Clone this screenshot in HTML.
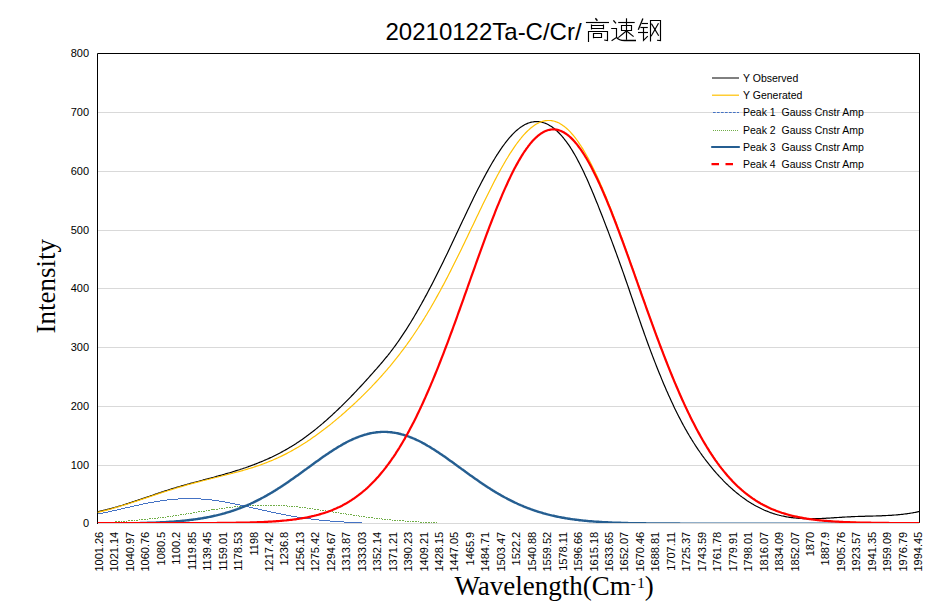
<!DOCTYPE html>
<html><head><meta charset="utf-8"><style>
html,body{margin:0;padding:0;background:#fff;}
svg{display:block;}
</style></head><body>
<svg width="939" height="611" viewBox="0 0 939 611">
<rect x="0" y="0" width="939" height="611" fill="#fff"/>
<defs><clipPath id="pc"><rect x="97.5" y="53.5" width="822" height="469.5"/></clipPath></defs>
<g stroke="#d9d9d9" stroke-width="1">
<line x1="98" x2="919" y1="112.5" y2="112.5"/>
<line x1="98" x2="919" y1="171.5" y2="171.5"/>
<line x1="98" x2="919" y1="230.5" y2="230.5"/>
<line x1="98" x2="919" y1="288.5" y2="288.5"/>
<line x1="98" x2="919" y1="347.5" y2="347.5"/>
<line x1="98" x2="919" y1="406.5" y2="406.5"/>
<line x1="98" x2="919" y1="465.5" y2="465.5"/>
<line x1="98" x2="919" y1="523.5" y2="523.5"/>
</g>
<path d="M97.5 524 V53.5 H919.5 V523" fill="none" stroke="#000" stroke-width="1"/>
<g clip-path="url(#pc)" fill="none" stroke-linejoin="round">
<path d="M97.5,511.8 L98.5,511.6 L99.5,511.3 L100.5,511.1 L101.5,510.9 L102.5,510.7 L103.5,510.4 L104.5,510.2 L105.5,509.9 L106.5,509.7 L107.5,509.4 L108.5,509.2 L109.5,508.9 L110.5,508.6 L111.5,508.4 L112.5,508.1 L113.5,507.8 L114.5,507.5 L115.5,507.2 L116.5,507.0 L117.5,506.7 L118.5,506.4 L119.5,506.1 L120.5,505.8 L121.5,505.5 L122.5,505.2 L123.5,504.8 L124.5,504.5 L125.5,504.2 L126.5,503.9 L127.5,503.6 L128.5,503.3 L129.5,502.9 L130.5,502.6 L131.5,502.3 L132.5,501.9 L133.5,501.6 L134.5,501.3 L135.5,500.9 L136.5,500.6 L137.5,500.3 L138.5,499.9 L139.5,499.6 L140.5,499.3 L141.5,498.9 L142.5,498.6 L143.5,498.2 L144.5,497.9 L145.5,497.6 L146.5,497.2 L147.5,496.9 L148.5,496.5 L149.5,496.2 L150.5,495.8 L151.5,495.5 L152.5,495.2 L153.5,494.8 L154.5,494.5 L155.5,494.1 L156.5,493.8 L157.5,493.5 L158.5,493.1 L159.5,492.8 L160.5,492.5 L161.5,492.1 L162.5,491.8 L163.5,491.5 L164.5,491.1 L165.5,490.8 L166.5,490.5 L167.5,490.2 L168.5,489.9 L169.5,489.5 L170.5,489.2 L171.5,488.9 L172.5,488.6 L173.5,488.3 L174.5,488.0 L175.5,487.7 L176.5,487.4 L177.5,487.1 L178.5,486.8 L179.5,486.5 L180.5,486.2 L181.5,485.9 L182.5,485.6 L183.5,485.4 L184.5,485.1 L185.5,484.8 L186.5,484.5 L187.5,484.2 L188.5,484.0 L189.5,483.7 L190.5,483.4 L191.5,483.1 L192.5,482.9 L193.5,482.6 L194.5,482.3 L195.5,482.1 L196.5,481.8 L197.5,481.5 L198.5,481.3 L199.5,481.0 L200.5,480.7 L201.5,480.5 L202.5,480.2 L203.5,479.9 L204.5,479.7 L205.5,479.4 L206.5,479.1 L207.5,478.9 L208.5,478.6 L209.5,478.3 L210.5,478.1 L211.5,477.8 L212.5,477.5 L213.5,477.3 L214.5,477.0 L215.5,476.7 L216.5,476.4 L217.5,476.2 L218.5,475.9 L219.5,475.6 L220.5,475.3 L221.5,475.1 L222.5,474.8 L223.5,474.5 L224.5,474.2 L225.5,473.9 L226.5,473.6 L227.5,473.3 L228.5,473.0 L229.5,472.8 L230.5,472.5 L231.5,472.2 L232.5,471.9 L233.5,471.5 L234.5,471.2 L235.5,470.9 L236.5,470.6 L237.5,470.3 L238.5,470.0 L239.5,469.7 L240.5,469.3 L241.5,469.0 L242.5,468.7 L243.5,468.3 L244.5,468.0 L245.5,467.7 L246.5,467.3 L247.5,467.0 L248.5,466.6 L249.5,466.2 L250.5,465.9 L251.5,465.5 L252.5,465.1 L253.5,464.8 L254.5,464.4 L255.5,464.0 L256.5,463.6 L257.5,463.2 L258.5,462.8 L259.5,462.4 L260.5,462.0 L261.5,461.6 L262.5,461.2 L263.5,460.8 L264.5,460.3 L265.5,459.9 L266.5,459.5 L267.5,459.0 L268.5,458.6 L269.5,458.1 L270.5,457.6 L271.5,457.2 L272.5,456.7 L273.5,456.2 L274.5,455.7 L275.5,455.2 L276.5,454.7 L277.5,454.2 L278.5,453.7 L279.5,453.2 L280.5,452.7 L281.5,452.1 L282.5,451.6 L283.5,451.0 L284.5,450.5 L285.5,449.9 L286.5,449.4 L287.5,448.8 L288.5,448.2 L289.5,447.6 L290.5,447.0 L291.5,446.4 L292.5,445.8 L293.5,445.2 L294.5,444.5 L295.5,443.9 L296.5,443.2 L297.5,442.6 L298.5,441.9 L299.5,441.3 L300.5,440.6 L301.5,439.9 L302.5,439.2 L303.5,438.5 L304.5,437.8 L305.5,437.1 L306.5,436.3 L307.5,435.6 L308.5,434.8 L309.5,434.1 L310.5,433.3 L311.5,432.5 L312.5,431.8 L313.5,431.0 L314.5,430.2 L315.5,429.4 L316.5,428.6 L317.5,427.8 L318.5,426.9 L319.5,426.1 L320.5,425.3 L321.5,424.4 L322.5,423.6 L323.5,422.7 L324.5,421.8 L325.5,421.0 L326.5,420.1 L327.5,419.2 L328.5,418.3 L329.5,417.4 L330.5,416.5 L331.5,415.6 L332.5,414.7 L333.5,413.7 L334.5,412.8 L335.5,411.9 L336.5,410.9 L337.5,410.0 L338.5,409.0 L339.5,408.0 L340.5,407.1 L341.5,406.1 L342.5,405.1 L343.5,404.1 L344.5,403.1 L345.5,402.1 L346.5,401.1 L347.5,400.1 L348.5,399.1 L349.5,398.1 L350.5,397.1 L351.5,396.0 L352.5,395.0 L353.5,394.0 L354.5,392.9 L355.5,391.9 L356.5,390.8 L357.5,389.7 L358.5,388.7 L359.5,387.6 L360.5,386.5 L361.5,385.5 L362.5,384.4 L363.5,383.3 L364.5,382.2 L365.5,381.1 L366.5,380.0 L367.5,378.9 L368.5,377.8 L369.5,376.7 L370.5,375.5 L371.5,374.4 L372.5,373.3 L373.5,372.2 L374.5,371.0 L375.5,369.9 L376.5,368.8 L377.5,367.6 L378.5,366.5 L379.5,365.3 L380.5,364.2 L381.5,363.0 L382.5,361.8 L383.5,360.6 L384.5,359.4 L385.5,358.2 L386.5,357.0 L387.5,355.8 L388.5,354.5 L389.5,353.3 L390.5,352.0 L391.5,350.7 L392.5,349.4 L393.5,348.0 L394.5,346.7 L395.5,345.3 L396.5,343.9 L397.5,342.5 L398.5,341.1 L399.5,339.7 L400.5,338.2 L401.5,336.7 L402.5,335.2 L403.5,333.7 L404.5,332.2 L405.5,330.7 L406.5,329.1 L407.5,327.5 L408.5,325.9 L409.5,324.3 L410.5,322.7 L411.5,321.0 L412.5,319.4 L413.5,317.7 L414.5,316.0 L415.5,314.3 L416.5,312.6 L417.5,310.8 L418.5,309.1 L419.5,307.3 L420.5,305.5 L421.5,303.8 L422.5,301.9 L423.5,300.1 L424.5,298.3 L425.5,296.4 L426.5,294.6 L427.5,292.7 L428.5,290.8 L429.5,288.9 L430.5,287.0 L431.5,285.1 L432.5,283.2 L433.5,281.2 L434.5,279.3 L435.5,277.3 L436.5,275.3 L437.5,273.3 L438.5,271.3 L439.5,269.3 L440.5,267.3 L441.5,265.3 L442.5,263.2 L443.5,261.2 L444.5,259.1 L445.5,257.0 L446.5,255.0 L447.5,252.9 L448.5,250.8 L449.5,248.7 L450.5,246.6 L451.5,244.5 L452.5,242.3 L453.5,240.2 L454.5,238.1 L455.5,236.0 L456.5,233.8 L457.5,231.7 L458.5,229.6 L459.5,227.5 L460.5,225.3 L461.5,223.2 L462.5,221.1 L463.5,219.0 L464.5,216.9 L465.5,214.8 L466.5,212.7 L467.5,210.6 L468.5,208.5 L469.5,206.4 L470.5,204.3 L471.5,202.2 L472.5,200.2 L473.5,198.1 L474.5,196.1 L475.5,194.1 L476.5,192.1 L477.5,190.1 L478.5,188.1 L479.5,186.2 L480.5,184.2 L481.5,182.3 L482.5,180.4 L483.5,178.5 L484.5,176.6 L485.5,174.7 L486.5,172.9 L487.5,171.1 L488.5,169.3 L489.5,167.5 L490.5,165.7 L491.5,164.0 L492.5,162.3 L493.5,160.6 L494.5,159.0 L495.5,157.3 L496.5,155.7 L497.5,154.2 L498.5,152.6 L499.5,151.1 L500.5,149.6 L501.5,148.2 L502.5,146.7 L503.5,145.4 L504.5,144.0 L505.5,142.7 L506.5,141.4 L507.5,140.1 L508.5,138.9 L509.5,137.7 L510.5,136.6 L511.5,135.5 L512.5,134.4 L513.5,133.4 L514.5,132.4 L515.5,131.4 L516.5,130.5 L517.5,129.7 L518.5,128.9 L519.5,128.1 L520.5,127.3 L521.5,126.7 L522.5,126.0 L523.5,125.4 L524.5,124.8 L525.5,124.3 L526.5,123.9 L527.5,123.4 L528.5,123.0 L529.5,122.7 L530.5,122.4 L531.5,122.2 L532.5,122.0 L533.5,121.8 L534.5,121.7 L535.5,121.6 L536.5,121.6 L537.5,121.6 L538.5,121.7 L539.5,121.8 L540.5,121.9 L541.5,122.1 L542.5,122.4 L543.5,122.7 L544.5,123.0 L545.5,123.4 L546.5,123.8 L547.5,124.3 L548.5,124.8 L549.5,125.4 L550.5,126.0 L551.5,126.6 L552.5,127.3 L553.5,128.1 L554.5,128.8 L555.5,129.7 L556.5,130.6 L557.5,131.5 L558.5,132.5 L559.5,133.5 L560.5,134.6 L561.5,135.7 L562.5,136.8 L563.5,138.0 L564.5,139.3 L565.5,140.6 L566.5,141.9 L567.5,143.3 L568.5,144.7 L569.5,146.2 L570.5,147.7 L571.5,149.3 L572.5,150.9 L573.5,152.6 L574.5,154.3 L575.5,156.0 L576.5,157.8 L577.5,159.7 L578.5,161.6 L579.5,163.5 L580.5,165.5 L581.5,167.5 L582.5,169.5 L583.5,171.6 L584.5,173.8 L585.5,175.9 L586.5,178.1 L587.5,180.3 L588.5,182.6 L589.5,184.9 L590.5,187.2 L591.5,189.6 L592.5,191.9 L593.5,194.3 L594.5,196.8 L595.5,199.2 L596.5,201.7 L597.5,204.1 L598.5,206.6 L599.5,209.2 L600.5,211.7 L601.5,214.3 L602.5,216.8 L603.5,219.4 L604.5,222.0 L605.5,224.6 L606.5,227.2 L607.5,229.8 L608.5,232.4 L609.5,235.1 L610.5,237.7 L611.5,240.4 L612.5,243.1 L613.5,245.8 L614.5,248.5 L615.5,251.2 L616.5,253.9 L617.5,256.7 L618.5,259.4 L619.5,262.2 L620.5,265.0 L621.5,267.8 L622.5,270.6 L623.5,273.4 L624.5,276.3 L625.5,279.2 L626.5,282.0 L627.5,284.9 L628.5,287.8 L629.5,290.8 L630.5,293.7 L631.5,296.6 L632.5,299.5 L633.5,302.5 L634.5,305.4 L635.5,308.3 L636.5,311.2 L637.5,314.1 L638.5,317.0 L639.5,319.9 L640.5,322.8 L641.5,325.7 L642.5,328.5 L643.5,331.3 L644.5,334.2 L645.5,336.9 L646.5,339.7 L647.5,342.5 L648.5,345.2 L649.5,347.9 L650.5,350.6 L651.5,353.2 L652.5,355.9 L653.5,358.5 L654.5,361.1 L655.5,363.6 L656.5,366.2 L657.5,368.7 L658.5,371.2 L659.5,373.7 L660.5,376.1 L661.5,378.6 L662.5,381.0 L663.5,383.4 L664.5,385.7 L665.5,388.0 L666.5,390.4 L667.5,392.6 L668.5,394.9 L669.5,397.1 L670.5,399.3 L671.5,401.5 L672.5,403.6 L673.5,405.8 L674.5,407.9 L675.5,409.9 L676.5,412.0 L677.5,414.0 L678.5,416.0 L679.5,417.9 L680.5,419.8 L681.5,421.7 L682.5,423.6 L683.5,425.5 L684.5,427.3 L685.5,429.1 L686.5,430.8 L687.5,432.6 L688.5,434.3 L689.5,436.0 L690.5,437.6 L691.5,439.3 L692.5,440.9 L693.5,442.5 L694.5,444.0 L695.5,445.6 L696.5,447.1 L697.5,448.6 L698.5,450.1 L699.5,451.5 L700.5,453.0 L701.5,454.4 L702.5,455.8 L703.5,457.1 L704.5,458.5 L705.5,459.8 L706.5,461.1 L707.5,462.4 L708.5,463.7 L709.5,465.0 L710.5,466.2 L711.5,467.4 L712.5,468.6 L713.5,469.8 L714.5,471.0 L715.5,472.1 L716.5,473.3 L717.5,474.4 L718.5,475.5 L719.5,476.6 L720.5,477.6 L721.5,478.7 L722.5,479.7 L723.5,480.8 L724.5,481.8 L725.5,482.8 L726.5,483.8 L727.5,484.7 L728.5,485.7 L729.5,486.6 L730.5,487.5 L731.5,488.4 L732.5,489.3 L733.5,490.2 L734.5,491.0 L735.5,491.9 L736.5,492.7 L737.5,493.5 L738.5,494.3 L739.5,495.1 L740.5,495.9 L741.5,496.6 L742.5,497.4 L743.5,498.1 L744.5,498.8 L745.5,499.5 L746.5,500.2 L747.5,500.9 L748.5,501.5 L749.5,502.2 L750.5,502.8 L751.5,503.4 L752.5,504.0 L753.5,504.6 L754.5,505.2 L755.5,505.7 L756.5,506.3 L757.5,506.8 L758.5,507.3 L759.5,507.8 L760.5,508.3 L761.5,508.8 L762.5,509.3 L763.5,509.7 L764.5,510.2 L765.5,510.6 L766.5,511.0 L767.5,511.4 L768.5,511.8 L769.5,512.2 L770.5,512.6 L771.5,512.9 L772.5,513.2 L773.5,513.6 L774.5,513.9 L775.5,514.2 L776.5,514.5 L777.5,514.8 L778.5,515.0 L779.5,515.3 L780.5,515.5 L781.5,515.8 L782.5,516.0 L783.5,516.2 L784.5,516.4 L785.5,516.6 L786.5,516.8 L787.5,517.0 L788.5,517.1 L789.5,517.3 L790.5,517.4 L791.5,517.6 L792.5,517.7 L793.5,517.8 L794.5,517.9 L795.5,518.0 L796.5,518.1 L797.5,518.2 L798.5,518.3 L799.5,518.4 L800.5,518.4 L801.5,518.5 L802.5,518.6 L803.5,518.6 L804.5,518.6 L805.5,518.7 L806.5,518.7 L807.5,518.7 L808.5,518.7 L809.5,518.7 L810.5,518.7 L811.5,518.7 L812.5,518.7 L813.5,518.7 L814.5,518.7 L815.5,518.7 L816.5,518.7 L817.5,518.6 L818.5,518.6 L819.5,518.6 L820.5,518.5 L821.5,518.5 L822.5,518.4 L823.5,518.4 L824.5,518.3 L825.5,518.3 L826.5,518.2 L827.5,518.2 L828.5,518.1 L829.5,518.1 L830.5,518.0 L831.5,517.9 L832.5,517.9 L833.5,517.8 L834.5,517.7 L835.5,517.7 L836.5,517.6 L837.5,517.5 L838.5,517.5 L839.5,517.4 L840.5,517.3 L841.5,517.3 L842.5,517.2 L843.5,517.2 L844.5,517.1 L845.5,517.0 L846.5,517.0 L847.5,516.9 L848.5,516.9 L849.5,516.8 L850.5,516.8 L851.5,516.7 L852.5,516.7 L853.5,516.6 L854.5,516.6 L855.5,516.5 L856.5,516.5 L857.5,516.5 L858.5,516.4 L859.5,516.4 L860.5,516.4 L861.5,516.4 L862.5,516.3 L863.5,516.3 L864.5,516.3 L865.5,516.2 L866.5,516.2 L867.5,516.2 L868.5,516.2 L869.5,516.1 L870.5,516.1 L871.5,516.1 L872.5,516.1 L873.5,516.0 L874.5,516.0 L875.5,516.0 L876.5,515.9 L877.5,515.9 L878.5,515.9 L879.5,515.8 L880.5,515.8 L881.5,515.8 L882.5,515.7 L883.5,515.7 L884.5,515.6 L885.5,515.6 L886.5,515.5 L887.5,515.5 L888.5,515.4 L889.5,515.4 L890.5,515.3 L891.5,515.3 L892.5,515.2 L893.5,515.1 L894.5,515.0 L895.5,515.0 L896.5,514.9 L897.5,514.8 L898.5,514.7 L899.5,514.6 L900.5,514.5 L901.5,514.4 L902.5,514.3 L903.5,514.2 L904.5,514.0 L905.5,513.9 L906.5,513.8 L907.5,513.6 L908.5,513.5 L909.5,513.3 L910.5,513.2 L911.5,513.0 L912.5,512.9 L913.5,512.7 L914.5,512.5 L915.5,512.3 L916.5,512.1 L917.5,511.9 L918.5,511.7 L919.5,511.5" stroke="#000" stroke-width="1.2"/>
<path d="M97.5,512.4 L98.5,512.2 L99.5,511.9 L100.5,511.7 L101.5,511.4 L102.5,511.2 L103.5,510.9 L104.5,510.7 L105.5,510.4 L106.5,510.1 L107.5,509.9 L108.5,509.6 L109.5,509.3 L110.5,509.0 L111.5,508.8 L112.5,508.5 L113.5,508.2 L114.5,507.9 L115.5,507.6 L116.5,507.3 L117.5,507.0 L118.5,506.7 L119.5,506.4 L120.5,506.1 L121.5,505.8 L122.5,505.5 L123.5,505.2 L124.5,504.9 L125.5,504.6 L126.5,504.3 L127.5,504.0 L128.5,503.6 L129.5,503.3 L130.5,503.0 L131.5,502.7 L132.5,502.4 L133.5,502.0 L134.5,501.7 L135.5,501.4 L136.5,501.1 L137.5,500.7 L138.5,500.4 L139.5,500.1 L140.5,499.7 L141.5,499.4 L142.5,499.1 L143.5,498.7 L144.5,498.4 L145.5,498.1 L146.5,497.7 L147.5,497.4 L148.5,497.1 L149.5,496.7 L150.5,496.4 L151.5,496.1 L152.5,495.7 L153.5,495.4 L154.5,495.1 L155.5,494.7 L156.5,494.4 L157.5,494.1 L158.5,493.8 L159.5,493.4 L160.5,493.1 L161.5,492.8 L162.5,492.5 L163.5,492.1 L164.5,491.8 L165.5,491.5 L166.5,491.2 L167.5,490.8 L168.5,490.5 L169.5,490.2 L170.5,489.9 L171.5,489.6 L172.5,489.3 L173.5,489.0 L174.5,488.7 L175.5,488.3 L176.5,488.0 L177.5,487.7 L178.5,487.4 L179.5,487.1 L180.5,486.8 L181.5,486.6 L182.5,486.3 L183.5,486.0 L184.5,485.7 L185.5,485.4 L186.5,485.1 L187.5,484.8 L188.5,484.5 L189.5,484.3 L190.5,484.0 L191.5,483.7 L192.5,483.4 L193.5,483.2 L194.5,482.9 L195.5,482.6 L196.5,482.3 L197.5,482.1 L198.5,481.8 L199.5,481.6 L200.5,481.3 L201.5,481.0 L202.5,480.8 L203.5,480.5 L204.5,480.3 L205.5,480.0 L206.5,479.8 L207.5,479.5 L208.5,479.3 L209.5,479.0 L210.5,478.8 L211.5,478.5 L212.5,478.3 L213.5,478.0 L214.5,477.8 L215.5,477.5 L216.5,477.3 L217.5,477.0 L218.5,476.8 L219.5,476.5 L220.5,476.3 L221.5,476.0 L222.5,475.8 L223.5,475.5 L224.5,475.3 L225.5,475.0 L226.5,474.8 L227.5,474.5 L228.5,474.3 L229.5,474.0 L230.5,473.8 L231.5,473.5 L232.5,473.3 L233.5,473.0 L234.5,472.7 L235.5,472.5 L236.5,472.2 L237.5,472.0 L238.5,471.7 L239.5,471.4 L240.5,471.1 L241.5,470.9 L242.5,470.6 L243.5,470.3 L244.5,470.0 L245.5,469.7 L246.5,469.4 L247.5,469.1 L248.5,468.8 L249.5,468.5 L250.5,468.2 L251.5,467.9 L252.5,467.6 L253.5,467.3 L254.5,466.9 L255.5,466.6 L256.5,466.3 L257.5,465.9 L258.5,465.6 L259.5,465.2 L260.5,464.9 L261.5,464.5 L262.5,464.1 L263.5,463.8 L264.5,463.4 L265.5,463.0 L266.5,462.6 L267.5,462.2 L268.5,461.8 L269.5,461.4 L270.5,461.0 L271.5,460.6 L272.5,460.2 L273.5,459.7 L274.5,459.3 L275.5,458.9 L276.5,458.4 L277.5,458.0 L278.5,457.5 L279.5,457.0 L280.5,456.6 L281.5,456.1 L282.5,455.6 L283.5,455.1 L284.5,454.6 L285.5,454.1 L286.5,453.6 L287.5,453.1 L288.5,452.5 L289.5,452.0 L290.5,451.5 L291.5,450.9 L292.5,450.4 L293.5,449.8 L294.5,449.2 L295.5,448.6 L296.5,448.1 L297.5,447.5 L298.5,446.9 L299.5,446.3 L300.5,445.7 L301.5,445.0 L302.5,444.4 L303.5,443.8 L304.5,443.2 L305.5,442.5 L306.5,441.9 L307.5,441.2 L308.5,440.5 L309.5,439.9 L310.5,439.2 L311.5,438.5 L312.5,437.8 L313.5,437.1 L314.5,436.4 L315.5,435.7 L316.5,435.0 L317.5,434.3 L318.5,433.6 L319.5,432.8 L320.5,432.1 L321.5,431.3 L322.5,430.6 L323.5,429.8 L324.5,429.1 L325.5,428.3 L326.5,427.5 L327.5,426.7 L328.5,425.9 L329.5,425.2 L330.5,424.4 L331.5,423.6 L332.5,422.7 L333.5,421.9 L334.5,421.1 L335.5,420.3 L336.5,419.4 L337.5,418.6 L338.5,417.8 L339.5,416.9 L340.5,416.1 L341.5,415.2 L342.5,414.3 L343.5,413.5 L344.5,412.6 L345.5,411.7 L346.5,410.8 L347.5,409.9 L348.5,409.0 L349.5,408.1 L350.5,407.2 L351.5,406.3 L352.5,405.4 L353.5,404.5 L354.5,403.5 L355.5,402.6 L356.5,401.6 L357.5,400.7 L358.5,399.7 L359.5,398.8 L360.5,397.8 L361.5,396.8 L362.5,395.9 L363.5,394.9 L364.5,393.9 L365.5,392.9 L366.5,391.9 L367.5,390.9 L368.5,389.9 L369.5,388.8 L370.5,387.8 L371.5,386.8 L372.5,385.7 L373.5,384.7 L374.5,383.6 L375.5,382.5 L376.5,381.5 L377.5,380.4 L378.5,379.3 L379.5,378.2 L380.5,377.1 L381.5,376.0 L382.5,374.9 L383.5,373.7 L384.5,372.6 L385.5,371.4 L386.5,370.3 L387.5,369.1 L388.5,367.9 L389.5,366.8 L390.5,365.6 L391.5,364.4 L392.5,363.1 L393.5,361.9 L394.5,360.7 L395.5,359.4 L396.5,358.2 L397.5,356.9 L398.5,355.6 L399.5,354.3 L400.5,353.0 L401.5,351.7 L402.5,350.4 L403.5,349.1 L404.5,347.7 L405.5,346.3 L406.5,345.0 L407.5,343.6 L408.5,342.2 L409.5,340.8 L410.5,339.3 L411.5,337.9 L412.5,336.5 L413.5,335.0 L414.5,333.5 L415.5,332.0 L416.5,330.5 L417.5,329.0 L418.5,327.5 L419.5,325.9 L420.5,324.3 L421.5,322.8 L422.5,321.2 L423.5,319.6 L424.5,318.0 L425.5,316.3 L426.5,314.7 L427.5,313.0 L428.5,311.3 L429.5,309.7 L430.5,308.0 L431.5,306.2 L432.5,304.5 L433.5,302.8 L434.5,301.0 L435.5,299.2 L436.5,297.4 L437.5,295.6 L438.5,293.8 L439.5,292.0 L440.5,290.2 L441.5,288.3 L442.5,286.4 L443.5,284.6 L444.5,282.7 L445.5,280.8 L446.5,278.9 L447.5,276.9 L448.5,275.0 L449.5,273.0 L450.5,271.1 L451.5,269.1 L452.5,267.1 L453.5,265.1 L454.5,263.1 L455.5,261.1 L456.5,259.1 L457.5,257.1 L458.5,255.0 L459.5,253.0 L460.5,250.9 L461.5,248.9 L462.5,246.8 L463.5,244.7 L464.5,242.7 L465.5,240.6 L466.5,238.5 L467.5,236.4 L468.5,234.3 L469.5,232.2 L470.5,230.1 L471.5,228.0 L472.5,226.0 L473.5,223.9 L474.5,221.8 L475.5,219.7 L476.5,217.6 L477.5,215.5 L478.5,213.4 L479.5,211.3 L480.5,209.2 L481.5,207.2 L482.5,205.1 L483.5,203.0 L484.5,201.0 L485.5,198.9 L486.5,196.9 L487.5,194.9 L488.5,192.9 L489.5,190.9 L490.5,188.9 L491.5,186.9 L492.5,184.9 L493.5,183.0 L494.5,181.0 L495.5,179.1 L496.5,177.2 L497.5,175.3 L498.5,173.5 L499.5,171.6 L500.5,169.8 L501.5,168.0 L502.5,166.2 L503.5,164.5 L504.5,162.7 L505.5,161.0 L506.5,159.3 L507.5,157.7 L508.5,156.0 L509.5,154.4 L510.5,152.8 L511.5,151.3 L512.5,149.8 L513.5,148.3 L514.5,146.8 L515.5,145.4 L516.5,144.0 L517.5,142.6 L518.5,141.3 L519.5,140.0 L520.5,138.8 L521.5,137.5 L522.5,136.4 L523.5,135.2 L524.5,134.1 L525.5,133.0 L526.5,132.0 L527.5,131.0 L528.5,130.1 L529.5,129.2 L530.5,128.3 L531.5,127.5 L532.5,126.7 L533.5,126.0 L534.5,125.3 L535.5,124.6 L536.5,124.0 L537.5,123.5 L538.5,123.0 L539.5,122.5 L540.5,122.1 L541.5,121.7 L542.5,121.4 L543.5,121.1 L544.5,120.9 L545.5,120.7 L546.5,120.6 L547.5,120.5 L548.5,120.5 L549.5,120.5 L550.5,120.5 L551.5,120.6 L552.5,120.8 L553.5,121.0 L554.5,121.3 L555.5,121.6 L556.5,122.0 L557.5,122.4 L558.5,122.8 L559.5,123.3 L560.5,123.9 L561.5,124.5 L562.5,125.2 L563.5,125.9 L564.5,126.6 L565.5,127.5 L566.5,128.3 L567.5,129.2 L568.5,130.2 L569.5,131.2 L570.5,132.2 L571.5,133.3 L572.5,134.5 L573.5,135.7 L574.5,136.9 L575.5,138.2 L576.5,139.5 L577.5,140.9 L578.5,142.3 L579.5,143.8 L580.5,145.3 L581.5,146.9 L582.5,148.4 L583.5,150.1 L584.5,151.8 L585.5,153.5 L586.5,155.3 L587.5,157.1 L588.5,158.9 L589.5,160.8 L590.5,162.7 L591.5,164.7 L592.5,166.7 L593.5,168.7 L594.5,170.8 L595.5,172.9 L596.5,175.0 L597.5,177.2 L598.5,179.4 L599.5,181.6 L600.5,183.9 L601.5,186.2 L602.5,188.5 L603.5,190.9 L604.5,193.3 L605.5,195.7 L606.5,198.1 L607.5,200.6 L608.5,203.1 L609.5,205.6 L610.5,208.1 L611.5,210.7 L612.5,213.2 L613.5,215.8 L614.5,218.5 L615.5,221.1 L616.5,223.8 L617.5,226.4 L618.5,229.1 L619.5,231.8 L620.5,234.6 L621.5,237.3 L622.5,240.0 L623.5,242.8 L624.5,245.6 L625.5,248.3 L626.5,251.1 L627.5,253.9 L628.5,256.7 L629.5,259.6 L630.5,262.4 L631.5,265.2 L632.5,268.0 L633.5,270.9 L634.5,273.7 L635.5,276.5 L636.5,279.4 L637.5,282.2 L638.5,285.1 L639.5,287.9 L640.5,290.7 L641.5,293.6 L642.5,296.4 L643.5,299.2 L644.5,302.0 L645.5,304.9 L646.5,307.7 L647.5,310.5 L648.5,313.3 L649.5,316.1 L650.5,318.8 L651.5,321.6 L652.5,324.4 L653.5,327.1 L654.5,329.9 L655.5,332.6 L656.5,335.3 L657.5,338.0 L658.5,340.7 L659.5,343.4 L660.5,346.0 L661.5,348.7 L662.5,351.3 L663.5,353.9 L664.5,356.5 L665.5,359.1 L666.5,361.6 L667.5,364.2 L668.5,366.7 L669.5,369.2 L670.5,371.7 L671.5,374.1 L672.5,376.6 L673.5,379.0 L674.5,381.4 L675.5,383.8 L676.5,386.2 L677.5,388.5 L678.5,390.8 L679.5,393.1 L680.5,395.4 L681.5,397.7 L682.5,399.9 L683.5,402.1 L684.5,404.3 L685.5,406.5 L686.5,408.6 L687.5,410.7 L688.5,412.8 L689.5,414.9 L690.5,416.9 L691.5,418.9 L692.5,420.9 L693.5,422.9 L694.5,424.8 L695.5,426.8 L696.5,428.7 L697.5,430.5 L698.5,432.4 L699.5,434.2 L700.5,436.0 L701.5,437.8 L702.5,439.5 L703.5,441.3 L704.5,443.0 L705.5,444.6 L706.5,446.3 L707.5,447.9 L708.5,449.5 L709.5,451.1 L710.5,452.7 L711.5,454.2 L712.5,455.7 L713.5,457.2 L714.5,458.6 L715.5,460.1 L716.5,461.5 L717.5,462.9 L718.5,464.2 L719.5,465.6 L720.5,466.9 L721.5,468.2 L722.5,469.5 L723.5,470.7 L724.5,472.0 L725.5,473.2 L726.5,474.3 L727.5,475.5 L728.5,476.7 L729.5,477.8 L730.5,478.9 L731.5,480.0 L732.5,481.0 L733.5,482.1 L734.5,483.1 L735.5,484.1 L736.5,485.1 L737.5,486.0 L738.5,487.0 L739.5,487.9 L740.5,488.8 L741.5,489.7 L742.5,490.5 L743.5,491.4 L744.5,492.2 L745.5,493.0 L746.5,493.8 L747.5,494.6 L748.5,495.4 L749.5,496.1 L750.5,496.8 L751.5,497.5 L752.5,498.2 L753.5,498.9 L754.5,499.6 L755.5,500.2 L756.5,500.9 L757.5,501.5 L758.5,502.1 L759.5,502.7 L760.5,503.3 L761.5,503.8 L762.5,504.4 L763.5,504.9 L764.5,505.4 L765.5,505.9 L766.5,506.4 L767.5,506.9 L768.5,507.4 L769.5,507.9 L770.5,508.3 L771.5,508.8 L772.5,509.2 L773.5,509.6 L774.5,510.0 L775.5,510.4 L776.5,510.8 L777.5,511.2 L778.5,511.5 L779.5,511.9 L780.5,512.2 L781.5,512.6 L782.5,512.9 L783.5,513.2 L784.5,513.5 L785.5,513.8 L786.5,514.1 L787.5,514.4 L788.5,514.7 L789.5,514.9 L790.5,515.2 L791.5,515.5 L792.5,515.7 L793.5,516.0 L794.5,516.2 L795.5,516.4 L796.5,516.6 L797.5,516.8 L798.5,517.0 L799.5,517.2 L800.5,517.4 L801.5,517.6 L802.5,517.8 L803.5,518.0 L804.5,518.2 L805.5,518.3 L806.5,518.5 L807.5,518.7 L808.5,518.8 L809.5,518.9 L810.5,519.1 L811.5,519.2 L812.5,519.4 L813.5,519.5 L814.5,519.6 L815.5,519.7 L816.5,519.9 L817.5,520.0 L818.5,520.1 L819.5,520.2 L820.5,520.3 L821.5,520.4 L822.5,520.5 L823.5,520.6 L824.5,520.7 L825.5,520.8 L826.5,520.8 L827.5,520.9 L828.5,521.0 L829.5,521.1 L830.5,521.1 L831.5,521.2 L832.5,521.3 L833.5,521.3 L834.5,521.4 L835.5,521.5 L836.5,521.5 L837.5,521.6 L838.5,521.6 L839.5,521.7 L840.5,521.7 L841.5,521.8 L842.5,521.8 L843.5,521.9 L844.5,521.9 L845.5,522.0 L846.5,522.0 L847.5,522.1 L848.5,522.1 L849.5,522.1 L850.5,522.2 L851.5,522.2 L852.5,522.2 L853.5,522.3 L854.5,522.3 L855.5,522.3 L856.5,522.4 L857.5,522.4 L858.5,522.4 L859.5,522.4 L860.5,522.5 L861.5,522.5 L862.5,522.5 L863.5,522.5 L864.5,522.5 L865.5,522.6 L866.5,522.6 L867.5,522.6 L868.5,522.6 L869.5,522.6 L870.5,522.6 L871.5,522.7 L872.5,522.7 L873.5,522.7 L874.5,522.7 L875.5,522.7 L876.5,522.7 L877.5,522.7 L878.5,522.8 L879.5,522.8 L880.5,522.8 L881.5,522.8 L882.5,522.8 L883.5,522.8 L884.5,522.8 L885.5,522.8 L886.5,522.8 L887.5,522.8 L888.5,522.8 L889.5,522.9 L890.5,522.9 L891.5,522.9 L892.5,522.9 L893.5,522.9 L894.5,522.9 L895.5,522.9 L896.5,522.9 L897.5,522.9 L898.5,522.9 L899.5,522.9 L900.5,522.9 L901.5,522.9 L902.5,522.9 L903.5,522.9 L904.5,522.9 L905.5,522.9 L906.5,522.9 L907.5,522.9 L908.5,522.9 L909.5,522.9 L910.5,522.9 L911.5,522.9 L912.5,523.0 L913.5,523.0 L914.5,523.0 L915.5,523.0 L916.5,523.0 L917.5,523.0 L918.5,523.0 L919.5,523.0" stroke="#ffc000" stroke-width="1.2"/>
</g><g fill="#4472c4" shape-rendering="crispEdges"><rect x="98" y="513" width="5" height="1"/><rect x="103" y="512" width="5" height="1"/><rect x="108" y="511" width="4" height="1"/><rect x="112" y="510" width="5" height="1"/><rect x="117" y="509" width="4" height="1"/><rect x="121" y="508" width="4" height="1"/><rect x="125" y="507" width="5" height="1"/><rect x="130" y="506" width="4" height="1"/><rect x="134" y="505" width="5" height="1"/><rect x="139" y="504" width="4" height="1"/><rect x="143" y="503" width="5" height="1"/><rect x="148" y="502" width="6" height="1"/><rect x="154" y="501" width="6" height="1"/><rect x="160" y="500" width="7" height="1"/><rect x="167" y="499" width="11" height="1"/><rect x="178" y="498" width="23" height="1"/><rect x="201" y="499" width="11" height="1"/><rect x="212" y="500" width="7" height="1"/><rect x="219" y="501" width="6" height="1"/><rect x="225" y="502" width="5" height="1"/><rect x="230" y="503" width="5" height="1"/><rect x="235" y="504" width="5" height="1"/><rect x="240" y="505" width="5" height="1"/><rect x="245" y="506" width="4" height="1"/><rect x="249" y="507" width="4" height="1"/><rect x="253" y="508" width="5" height="1"/><rect x="258" y="509" width="4" height="1"/><rect x="262" y="510" width="5" height="1"/><rect x="267" y="511" width="4" height="1"/><rect x="271" y="512" width="5" height="1"/><rect x="276" y="513" width="5" height="1"/><rect x="281" y="514" width="5" height="1"/><rect x="286" y="515" width="5" height="1"/><rect x="291" y="516" width="6" height="1"/><rect x="297" y="517" width="7" height="1"/><rect x="304" y="518" width="7" height="1"/><rect x="311" y="519" width="8" height="1"/><rect x="319" y="520" width="11" height="1"/><rect x="330" y="521" width="14" height="1"/><rect x="344" y="522" width="18" height="1"/></g><g fill="#70ad47" shape-rendering="crispEdges"><rect x="115" y="521" width="2" height="1"/><rect x="118" y="521" width="2" height="1"/><rect x="121" y="521" width="1" height="1"/><rect x="123" y="521" width="2" height="1"/><rect x="126" y="521" width="1" height="1"/><rect x="128" y="520" width="2" height="1"/><rect x="131" y="520" width="2" height="1"/><rect x="134" y="520" width="1" height="1"/><rect x="136" y="520" width="2" height="1"/><rect x="139" y="519" width="1" height="1"/><rect x="141" y="519" width="2" height="1"/><rect x="144" y="519" width="2" height="1"/><rect x="147" y="519" width="1" height="1"/><rect x="149" y="518" width="2" height="1"/><rect x="152" y="518" width="1" height="1"/><rect x="154" y="518" width="2" height="1"/><rect x="157" y="518" width="1" height="1"/><rect x="158" y="517" width="1" height="1"/><rect x="160" y="517" width="1" height="1"/><rect x="162" y="517" width="2" height="1"/><rect x="165" y="517" width="1" height="1"/><rect x="167" y="516" width="2" height="1"/><rect x="170" y="516" width="1" height="1"/><rect x="172" y="516" width="1" height="1"/><rect x="173" y="515" width="1" height="1"/><rect x="175" y="515" width="2" height="1"/><rect x="178" y="515" width="1" height="1"/><rect x="180" y="514" width="2" height="1"/><rect x="183" y="514" width="1" height="1"/><rect x="185" y="514" width="1" height="1"/><rect x="186" y="513" width="1" height="1"/><rect x="188" y="513" width="1" height="1"/><rect x="190" y="513" width="2" height="1"/><rect x="193" y="512" width="2" height="1"/><rect x="196" y="512" width="1" height="1"/><rect x="198" y="511" width="2" height="1"/><rect x="201" y="511" width="1" height="1"/><rect x="203" y="511" width="2" height="1"/><rect x="206" y="510" width="1" height="1"/><rect x="208" y="510" width="2" height="1"/><rect x="211" y="509" width="4" height="1"/><rect x="216" y="509" width="2" height="1"/><rect x="219" y="508" width="1" height="1"/><rect x="221" y="508" width="2" height="1"/><rect x="224" y="508" width="1" height="1"/><rect x="226" y="507" width="2" height="1"/><rect x="229" y="507" width="2" height="1"/><rect x="232" y="507" width="1" height="1"/><rect x="234" y="506" width="2" height="1"/><rect x="237" y="506" width="1" height="1"/><rect x="239" y="506" width="2" height="1"/><rect x="242" y="506" width="1" height="1"/><rect x="244" y="505" width="2" height="1"/><rect x="247" y="505" width="2" height="1"/><rect x="250" y="505" width="1" height="1"/><rect x="252" y="505" width="2" height="1"/><rect x="255" y="505" width="1" height="1"/><rect x="257" y="505" width="2" height="1"/><rect x="260" y="505" width="2" height="1"/><rect x="263" y="505" width="1" height="1"/><rect x="265" y="505" width="2" height="1"/><rect x="268" y="505" width="1" height="1"/><rect x="270" y="505" width="2" height="1"/><rect x="273" y="505" width="2" height="1"/><rect x="276" y="505" width="1" height="1"/><rect x="278" y="505" width="2" height="1"/><rect x="281" y="505" width="1" height="1"/><rect x="283" y="505" width="2" height="1"/><rect x="286" y="505" width="1" height="1"/><rect x="287" y="506" width="1" height="1"/><rect x="289" y="506" width="1" height="1"/><rect x="291" y="506" width="2" height="1"/><rect x="294" y="506" width="1" height="1"/><rect x="296" y="506" width="2" height="1"/><rect x="299" y="507" width="2" height="1"/><rect x="302" y="507" width="1" height="1"/><rect x="304" y="507" width="2" height="1"/><rect x="307" y="508" width="1" height="1"/><rect x="309" y="508" width="2" height="1"/><rect x="312" y="508" width="1" height="1"/><rect x="314" y="509" width="2" height="1"/><rect x="317" y="509" width="2" height="1"/><rect x="320" y="510" width="1" height="1"/><rect x="322" y="510" width="2" height="1"/><rect x="325" y="510" width="1" height="1"/><rect x="327" y="511" width="2" height="1"/><rect x="330" y="511" width="1" height="1"/><rect x="332" y="511" width="1" height="1"/><rect x="333" y="512" width="1" height="1"/><rect x="335" y="512" width="2" height="1"/><rect x="338" y="512" width="1" height="1"/><rect x="340" y="513" width="2" height="1"/><rect x="343" y="513" width="1" height="1"/><rect x="345" y="513" width="1" height="1"/><rect x="346" y="514" width="1" height="1"/><rect x="348" y="514" width="1" height="1"/><rect x="350" y="514" width="2" height="1"/><rect x="353" y="515" width="2" height="1"/><rect x="356" y="515" width="1" height="1"/><rect x="358" y="515" width="1" height="1"/><rect x="359" y="516" width="1" height="1"/><rect x="361" y="516" width="1" height="1"/><rect x="363" y="516" width="2" height="1"/><rect x="366" y="517" width="1" height="1"/><rect x="368" y="517" width="2" height="1"/><rect x="371" y="517" width="2" height="1"/><rect x="374" y="518" width="1" height="1"/><rect x="376" y="518" width="2" height="1"/><rect x="379" y="518" width="1" height="1"/><rect x="381" y="518" width="1" height="1"/><rect x="382" y="519" width="1" height="1"/><rect x="384" y="519" width="2" height="1"/><rect x="387" y="519" width="1" height="1"/><rect x="389" y="519" width="2" height="1"/><rect x="392" y="520" width="1" height="1"/><rect x="394" y="520" width="2" height="1"/><rect x="397" y="520" width="1" height="1"/><rect x="399" y="520" width="2" height="1"/><rect x="402" y="520" width="2" height="1"/><rect x="405" y="521" width="1" height="1"/><rect x="407" y="521" width="2" height="1"/><rect x="410" y="521" width="1" height="1"/><rect x="412" y="521" width="2" height="1"/><rect x="415" y="521" width="2" height="1"/><rect x="418" y="521" width="1" height="1"/><rect x="420" y="522" width="2" height="1"/><rect x="423" y="522" width="1" height="1"/><rect x="425" y="522" width="2" height="1"/><rect x="428" y="522" width="2" height="1"/><rect x="431" y="522" width="1" height="1"/><rect x="433" y="522" width="2" height="1"/><rect x="436" y="522" width="1" height="1"/></g><g clip-path="url(#pc)" fill="none" stroke-linejoin="round">

<path d="M97.5,523.5 L98.5,523.5 L99.5,523.5 L100.5,523.5 L101.5,523.5 L102.5,523.5 L103.5,523.5 L104.5,523.5 L105.5,523.5 L106.5,523.5 L107.5,523.5 L108.5,523.5 L109.5,523.5 L110.5,523.5 L111.5,523.4 L112.5,523.4 L113.5,523.4 L114.5,523.4 L115.5,523.4 L116.5,523.4 L117.5,523.4 L118.5,523.4 L119.5,523.4 L120.5,523.4 L121.5,523.4 L122.5,523.3 L123.5,523.3 L124.5,523.3 L125.5,523.3 L126.5,523.3 L127.5,523.3 L128.5,523.3 L129.5,523.2 L130.5,523.2 L131.5,523.2 L132.5,523.2 L133.5,523.2 L134.5,523.2 L135.5,523.1 L136.5,523.1 L137.5,523.1 L138.5,523.1 L139.5,523.1 L140.5,523.0 L141.5,523.0 L142.5,523.0 L143.5,523.0 L144.5,522.9 L145.5,522.9 L146.5,522.9 L147.5,522.8 L148.5,522.8 L149.5,522.8 L150.5,522.8 L151.5,522.7 L152.5,522.7 L153.5,522.6 L154.5,522.6 L155.5,522.6 L156.5,522.5 L157.5,522.5 L158.5,522.4 L159.5,522.4 L160.5,522.3 L161.5,522.3 L162.5,522.2 L163.5,522.2 L164.5,522.1 L165.5,522.1 L166.5,522.0 L167.5,522.0 L168.5,521.9 L169.5,521.8 L170.5,521.8 L171.5,521.7 L172.5,521.6 L173.5,521.6 L174.5,521.5 L175.5,521.4 L176.5,521.3 L177.5,521.2 L178.5,521.2 L179.5,521.1 L180.5,521.0 L181.5,520.9 L182.5,520.8 L183.5,520.7 L184.5,520.6 L185.5,520.5 L186.5,520.4 L187.5,520.3 L188.5,520.2 L189.5,520.0 L190.5,519.9 L191.5,519.8 L192.5,519.7 L193.5,519.5 L194.5,519.4 L195.5,519.3 L196.5,519.1 L197.5,519.0 L198.5,518.8 L199.5,518.7 L200.5,518.5 L201.5,518.4 L202.5,518.2 L203.5,518.0 L204.5,517.8 L205.5,517.7 L206.5,517.5 L207.5,517.3 L208.5,517.1 L209.5,516.9 L210.5,516.7 L211.5,516.5 L212.5,516.3 L213.5,516.0 L214.5,515.8 L215.5,515.6 L216.5,515.4 L217.5,515.1 L218.5,514.9 L219.5,514.6 L220.5,514.4 L221.5,514.1 L222.5,513.8 L223.5,513.6 L224.5,513.3 L225.5,513.0 L226.5,512.7 L227.5,512.4 L228.5,512.1 L229.5,511.8 L230.5,511.5 L231.5,511.2 L232.5,510.8 L233.5,510.5 L234.5,510.2 L235.5,509.8 L236.5,509.4 L237.5,509.1 L238.5,508.7 L239.5,508.3 L240.5,508.0 L241.5,507.6 L242.5,507.2 L243.5,506.8 L244.5,506.4 L245.5,505.9 L246.5,505.5 L247.5,505.1 L248.5,504.7 L249.5,504.2 L250.5,503.8 L251.5,503.3 L252.5,502.8 L253.5,502.4 L254.5,501.9 L255.5,501.4 L256.5,500.9 L257.5,500.4 L258.5,499.9 L259.5,499.4 L260.5,498.9 L261.5,498.3 L262.5,497.8 L263.5,497.3 L264.5,496.7 L265.5,496.1 L266.5,495.6 L267.5,495.0 L268.5,494.4 L269.5,493.9 L270.5,493.3 L271.5,492.7 L272.5,492.1 L273.5,491.5 L274.5,490.9 L275.5,490.2 L276.5,489.6 L277.5,489.0 L278.5,488.3 L279.5,487.7 L280.5,487.1 L281.5,486.4 L282.5,485.7 L283.5,485.1 L284.5,484.4 L285.5,483.7 L286.5,483.1 L287.5,482.4 L288.5,481.7 L289.5,481.0 L290.5,480.3 L291.5,479.6 L292.5,478.9 L293.5,478.2 L294.5,477.5 L295.5,476.8 L296.5,476.1 L297.5,475.4 L298.5,474.7 L299.5,473.9 L300.5,473.2 L301.5,472.5 L302.5,471.8 L303.5,471.0 L304.5,470.3 L305.5,469.6 L306.5,468.9 L307.5,468.1 L308.5,467.4 L309.5,466.7 L310.5,465.9 L311.5,465.2 L312.5,464.5 L313.5,463.8 L314.5,463.0 L315.5,462.3 L316.5,461.6 L317.5,460.9 L318.5,460.2 L319.5,459.5 L320.5,458.7 L321.5,458.0 L322.5,457.3 L323.5,456.6 L324.5,455.9 L325.5,455.3 L326.5,454.6 L327.5,453.9 L328.5,453.2 L329.5,452.5 L330.5,451.9 L331.5,451.2 L332.5,450.6 L333.5,449.9 L334.5,449.3 L335.5,448.7 L336.5,448.1 L337.5,447.4 L338.5,446.8 L339.5,446.2 L340.5,445.7 L341.5,445.1 L342.5,444.5 L343.5,443.9 L344.5,443.4 L345.5,442.9 L346.5,442.3 L347.5,441.8 L348.5,441.3 L349.5,440.8 L350.5,440.3 L351.5,439.9 L352.5,439.4 L353.5,438.9 L354.5,438.5 L355.5,438.1 L356.5,437.7 L357.5,437.3 L358.5,436.9 L359.5,436.5 L360.5,436.1 L361.5,435.8 L362.5,435.5 L363.5,435.2 L364.5,434.8 L365.5,434.6 L366.5,434.3 L367.5,434.0 L368.5,433.8 L369.5,433.5 L370.5,433.3 L371.5,433.1 L372.5,432.9 L373.5,432.8 L374.5,432.6 L375.5,432.5 L376.5,432.3 L377.5,432.2 L378.5,432.1 L379.5,432.1 L380.5,432.0 L381.5,431.9 L382.5,431.9 L383.5,431.9 L384.5,431.9 L385.5,431.9 L386.5,431.9 L387.5,432.0 L388.5,432.1 L389.5,432.1 L390.5,432.2 L391.5,432.3 L392.5,432.5 L393.5,432.6 L394.5,432.8 L395.5,432.9 L396.5,433.1 L397.5,433.3 L398.5,433.5 L399.5,433.8 L400.5,434.0 L401.5,434.3 L402.5,434.6 L403.5,434.8 L404.5,435.2 L405.5,435.5 L406.5,435.8 L407.5,436.1 L408.5,436.5 L409.5,436.9 L410.5,437.3 L411.5,437.7 L412.5,438.1 L413.5,438.5 L414.5,438.9 L415.5,439.4 L416.5,439.9 L417.5,440.3 L418.5,440.8 L419.5,441.3 L420.5,441.8 L421.5,442.3 L422.5,442.9 L423.5,443.4 L424.5,443.9 L425.5,444.5 L426.5,445.1 L427.5,445.7 L428.5,446.2 L429.5,446.8 L430.5,447.4 L431.5,448.1 L432.5,448.7 L433.5,449.3 L434.5,449.9 L435.5,450.6 L436.5,451.2 L437.5,451.9 L438.5,452.5 L439.5,453.2 L440.5,453.9 L441.5,454.6 L442.5,455.3 L443.5,455.9 L444.5,456.6 L445.5,457.3 L446.5,458.0 L447.5,458.7 L448.5,459.5 L449.5,460.2 L450.5,460.9 L451.5,461.6 L452.5,462.3 L453.5,463.0 L454.5,463.8 L455.5,464.5 L456.5,465.2 L457.5,465.9 L458.5,466.7 L459.5,467.4 L460.5,468.1 L461.5,468.9 L462.5,469.6 L463.5,470.3 L464.5,471.0 L465.5,471.8 L466.5,472.5 L467.5,473.2 L468.5,473.9 L469.5,474.7 L470.5,475.4 L471.5,476.1 L472.5,476.8 L473.5,477.5 L474.5,478.2 L475.5,478.9 L476.5,479.6 L477.5,480.3 L478.5,481.0 L479.5,481.7 L480.5,482.4 L481.5,483.1 L482.5,483.7 L483.5,484.4 L484.5,485.1 L485.5,485.7 L486.5,486.4 L487.5,487.1 L488.5,487.7 L489.5,488.3 L490.5,489.0 L491.5,489.6 L492.5,490.2 L493.5,490.9 L494.5,491.5 L495.5,492.1 L496.5,492.7 L497.5,493.3 L498.5,493.9 L499.5,494.4 L500.5,495.0 L501.5,495.6 L502.5,496.1 L503.5,496.7 L504.5,497.3 L505.5,497.8 L506.5,498.3 L507.5,498.9 L508.5,499.4 L509.5,499.9 L510.5,500.4 L511.5,500.9 L512.5,501.4 L513.5,501.9 L514.5,502.4 L515.5,502.8 L516.5,503.3 L517.5,503.8 L518.5,504.2 L519.5,504.7 L520.5,505.1 L521.5,505.5 L522.5,505.9 L523.5,506.4 L524.5,506.8 L525.5,507.2 L526.5,507.6 L527.5,508.0 L528.5,508.3 L529.5,508.7 L530.5,509.1 L531.5,509.4 L532.5,509.8 L533.5,510.2 L534.5,510.5 L535.5,510.8 L536.5,511.2 L537.5,511.5 L538.5,511.8 L539.5,512.1 L540.5,512.4 L541.5,512.7 L542.5,513.0 L543.5,513.3 L544.5,513.6 L545.5,513.8 L546.5,514.1 L547.5,514.4 L548.5,514.6 L549.5,514.9 L550.5,515.1 L551.5,515.4 L552.5,515.6 L553.5,515.8 L554.5,516.0 L555.5,516.3 L556.5,516.5 L557.5,516.7 L558.5,516.9 L559.5,517.1 L560.5,517.3 L561.5,517.5 L562.5,517.7 L563.5,517.8 L564.5,518.0 L565.5,518.2 L566.5,518.4 L567.5,518.5 L568.5,518.7 L569.5,518.8 L570.5,519.0 L571.5,519.1 L572.5,519.3 L573.5,519.4 L574.5,519.5 L575.5,519.7 L576.5,519.8 L577.5,519.9 L578.5,520.0 L579.5,520.2 L580.5,520.3 L581.5,520.4 L582.5,520.5 L583.5,520.6 L584.5,520.7 L585.5,520.8 L586.5,520.9 L587.5,521.0 L588.5,521.1 L589.5,521.2 L590.5,521.2 L591.5,521.3 L592.5,521.4 L593.5,521.5 L594.5,521.6 L595.5,521.6 L596.5,521.7 L597.5,521.8 L598.5,521.8 L599.5,521.9 L600.5,522.0 L601.5,522.0 L602.5,522.1 L603.5,522.1 L604.5,522.2 L605.5,522.2 L606.5,522.3 L607.5,522.3 L608.5,522.4 L609.5,522.4 L610.5,522.5 L611.5,522.5 L612.5,522.6 L613.5,522.6 L614.5,522.6 L615.5,522.7 L616.5,522.7 L617.5,522.8 L618.5,522.8 L619.5,522.8 L620.5,522.8 L621.5,522.9 L622.5,522.9 L623.5,522.9 L624.5,523.0 L625.5,523.0 L626.5,523.0 L627.5,523.0 L628.5,523.1 L629.5,523.1 L630.5,523.1 L631.5,523.1 L632.5,523.1 L633.5,523.2 L634.5,523.2 L635.5,523.2 L636.5,523.2 L637.5,523.2 L638.5,523.2 L639.5,523.3 L640.5,523.3 L641.5,523.3 L642.5,523.3 L643.5,523.3 L644.5,523.3 L645.5,523.3 L646.5,523.4 L647.5,523.4 L648.5,523.4 L649.5,523.4 L650.5,523.4 L651.5,523.4 L652.5,523.4 L653.5,523.4 L654.5,523.4 L655.5,523.4 L656.5,523.4 L657.5,523.5 L658.5,523.5 L659.5,523.5 L660.5,523.5 L661.5,523.5 L662.5,523.5 L663.5,523.5 L664.5,523.5 L665.5,523.5 L666.5,523.5 L667.5,523.5 L668.5,523.5 L669.5,523.5 L670.5,523.5 L671.5,523.5 L672.5,523.5 L673.5,523.5 L674.5,523.5 L675.5,523.5 L676.5,523.5 L677.5,523.5 L678.5,523.5 L679.5,523.5 L680.5,523.6 L681.5,523.6 L682.5,523.6 L683.5,523.6 L684.5,523.6 L685.5,523.6 L686.5,523.6 L687.5,523.6 L688.5,523.6 L689.5,523.6 L690.5,523.6 L691.5,523.6 L692.5,523.6 L693.5,523.6 L694.5,523.6 L695.5,523.6 L696.5,523.6 L697.5,523.6 L698.5,523.6 L699.5,523.6 L700.5,523.6 L701.5,523.6 L702.5,523.6 L703.5,523.6 L704.5,523.6 L705.5,523.6 L706.5,523.6 L707.5,523.6 L708.5,523.6 L709.5,523.6 L710.5,523.6 L711.5,523.6 L712.5,523.6 L713.5,523.6 L714.5,523.6 L715.5,523.6 L716.5,523.6 L717.5,523.6 L718.5,523.6 L719.5,523.6 L720.5,523.6 L721.5,523.6 L722.5,523.6 L723.5,523.6 L724.5,523.6 L725.5,523.6 L726.5,523.6 L727.5,523.6 L728.5,523.6 L729.5,523.6 L730.5,523.6 L731.5,523.6 L732.5,523.6 L733.5,523.6 L734.5,523.6 L735.5,523.6 L736.5,523.6 L737.5,523.6 L738.5,523.6 L739.5,523.6 L740.5,523.6 L741.5,523.6 L742.5,523.6 L743.5,523.6 L744.5,523.6 L745.5,523.6 L746.5,523.6 L747.5,523.6 L748.5,523.6 L749.5,523.6 L750.5,523.6 L751.5,523.6 L752.5,523.6 L753.5,523.6 L754.5,523.6 L755.5,523.6 L756.5,523.6 L757.5,523.6 L758.5,523.6 L759.5,523.6 L760.5,523.6 L761.5,523.6 L762.5,523.6 L763.5,523.6 L764.5,523.6 L765.5,523.6 L766.5,523.6 L767.5,523.6 L768.5,523.6 L769.5,523.6 L770.5,523.6 L771.5,523.6 L772.5,523.6 L773.5,523.6 L774.5,523.6 L775.5,523.6 L776.5,523.6 L777.5,523.6 L778.5,523.6 L779.5,523.6 L780.5,523.6 L781.5,523.6 L782.5,523.6 L783.5,523.6 L784.5,523.6 L785.5,523.6 L786.5,523.6 L787.5,523.6 L788.5,523.6 L789.5,523.6 L790.5,523.6 L791.5,523.6 L792.5,523.6 L793.5,523.6 L794.5,523.6 L795.5,523.6 L796.5,523.6 L797.5,523.6 L798.5,523.6 L799.5,523.6 L800.5,523.6 L801.5,523.6 L802.5,523.6 L803.5,523.6 L804.5,523.6 L805.5,523.6 L806.5,523.6 L807.5,523.6 L808.5,523.6 L809.5,523.6 L810.5,523.6 L811.5,523.6 L812.5,523.6 L813.5,523.6 L814.5,523.6 L815.5,523.6 L816.5,523.6 L817.5,523.6 L818.5,523.6 L819.5,523.6 L820.5,523.6 L821.5,523.6 L822.5,523.6 L823.5,523.6 L824.5,523.6 L825.5,523.6 L826.5,523.6 L827.5,523.6 L828.5,523.6 L829.5,523.6 L830.5,523.6 L831.5,523.6 L832.5,523.6 L833.5,523.6 L834.5,523.6 L835.5,523.6 L836.5,523.6 L837.5,523.6 L838.5,523.6 L839.5,523.6 L840.5,523.6 L841.5,523.6 L842.5,523.6 L843.5,523.6 L844.5,523.6 L845.5,523.6 L846.5,523.6 L847.5,523.6 L848.5,523.6 L849.5,523.6 L850.5,523.6 L851.5,523.6 L852.5,523.6 L853.5,523.6 L854.5,523.6 L855.5,523.6 L856.5,523.6 L857.5,523.6 L858.5,523.6 L859.5,523.6 L860.5,523.6 L861.5,523.6 L862.5,523.6 L863.5,523.6 L864.5,523.6 L865.5,523.6 L866.5,523.6 L867.5,523.6 L868.5,523.6 L869.5,523.6 L870.5,523.6 L871.5,523.6 L872.5,523.6 L873.5,523.6 L874.5,523.6 L875.5,523.6 L876.5,523.6 L877.5,523.6 L878.5,523.6 L879.5,523.6 L880.5,523.6 L881.5,523.6 L882.5,523.6 L883.5,523.6 L884.5,523.6 L885.5,523.6 L886.5,523.6 L887.5,523.6 L888.5,523.6 L889.5,523.6 L890.5,523.6 L891.5,523.6 L892.5,523.6 L893.5,523.6 L894.5,523.6 L895.5,523.6 L896.5,523.6 L897.5,523.6 L898.5,523.6 L899.5,523.6 L900.5,523.6 L901.5,523.6 L902.5,523.6 L903.5,523.6 L904.5,523.6 L905.5,523.6 L906.5,523.6 L907.5,523.6 L908.5,523.6 L909.5,523.6 L910.5,523.6 L911.5,523.6 L912.5,523.6 L913.5,523.6 L914.5,523.6 L915.5,523.6 L916.5,523.6 L917.5,523.6 L918.5,523.6 L919.5,523.6" stroke="#255e91" stroke-width="2.4"/>
<path d="M97.5,523.1 L98.5,523.1 L99.5,523.1 L100.5,523.1 L101.5,523.1 L102.5,523.1 L103.5,523.1 L104.5,523.1 L105.5,523.1 L106.5,523.1 L107.5,523.1 L108.5,523.1 L109.5,523.1 L110.5,523.1 L111.5,523.1 L112.5,523.1 L113.5,523.1 L114.5,523.1 L115.5,523.1 L116.5,523.1 L117.5,523.1 L118.5,523.1 L119.5,523.1 L120.5,523.1 L121.5,523.1 L122.5,523.1 L123.5,523.1 L124.5,523.1 L125.5,523.1 L126.5,523.1 L127.5,523.1 L128.5,523.1 L129.5,523.1 L130.5,523.1 L131.5,523.1 L132.5,523.1 L133.5,523.1 L134.5,523.1 L135.5,523.1 L136.5,523.1 L137.5,523.1 L138.5,523.1 L139.5,523.1 L140.5,523.1 L141.5,523.1 L142.5,523.1 L143.5,523.1 L144.5,523.1 L145.5,523.1 L146.5,523.1 L147.5,523.1 L148.5,523.1 L149.5,523.1 L150.5,523.1 L151.5,523.1 L152.5,523.1 L153.5,523.1 L154.5,523.1 L155.5,523.1 L156.5,523.1 L157.5,523.1 L158.5,523.1 L159.5,523.1 L160.5,523.1 L161.5,523.1 L162.5,523.1 L163.5,523.1 L164.5,523.1 L165.5,523.1 L166.5,523.1 L167.5,523.1 L168.5,523.1 L169.5,523.1 L170.5,523.1 L171.5,523.1 L172.5,523.1 L173.5,523.1 L174.5,523.1 L175.5,523.1 L176.5,523.1 L177.5,523.1 L178.5,523.1 L179.5,523.1 L180.5,523.1 L181.5,523.1 L182.5,523.1 L183.5,523.1 L184.5,523.1 L185.5,523.1 L186.5,523.1 L187.5,523.1 L188.5,523.1 L189.5,523.1 L190.5,523.1 L191.5,523.1 L192.5,523.1 L193.5,523.1 L194.5,523.1 L195.5,523.0 L196.5,523.0 L197.5,523.0 L198.5,523.0 L199.5,523.0 L200.5,523.0 L201.5,523.0 L202.5,523.0 L203.5,523.0 L204.5,523.0 L205.5,523.0 L206.5,523.0 L207.5,523.0 L208.5,523.0 L209.5,523.0 L210.5,523.0 L211.5,523.0 L212.5,523.0 L213.5,523.0 L214.5,523.0 L215.5,523.0 L216.5,523.0 L217.5,522.9 L218.5,522.9 L219.5,522.9 L220.5,522.9 L221.5,522.9 L222.5,522.9 L223.5,522.9 L224.5,522.9 L225.5,522.9 L226.5,522.9 L227.5,522.9 L228.5,522.8 L229.5,522.8 L230.5,522.8 L231.5,522.8 L232.5,522.8 L233.5,522.8 L234.5,522.8 L235.5,522.8 L236.5,522.7 L237.5,522.7 L238.5,522.7 L239.5,522.7 L240.5,522.7 L241.5,522.7 L242.5,522.6 L243.5,522.6 L244.5,522.6 L245.5,522.6 L246.5,522.5 L247.5,522.5 L248.5,522.5 L249.5,522.5 L250.5,522.4 L251.5,522.4 L252.5,522.4 L253.5,522.4 L254.5,522.3 L255.5,522.3 L256.5,522.3 L257.5,522.2 L258.5,522.2 L259.5,522.1 L260.5,522.1 L261.5,522.1 L262.5,522.0 L263.5,522.0 L264.5,521.9 L265.5,521.9 L266.5,521.8 L267.5,521.8 L268.5,521.7 L269.5,521.7 L270.5,521.6 L271.5,521.6 L272.5,521.5 L273.5,521.4 L274.5,521.4 L275.5,521.3 L276.5,521.2 L277.5,521.1 L278.5,521.1 L279.5,521.0 L280.5,520.9 L281.5,520.8 L282.5,520.7 L283.5,520.6 L284.5,520.5 L285.5,520.5 L286.5,520.4 L287.5,520.2 L288.5,520.1 L289.5,520.0 L290.5,519.9 L291.5,519.8 L292.5,519.7 L293.5,519.5 L294.5,519.4 L295.5,519.3 L296.5,519.1 L297.5,519.0 L298.5,518.8 L299.5,518.7 L300.5,518.5 L301.5,518.4 L302.5,518.2 L303.5,518.0 L304.5,517.8 L305.5,517.7 L306.5,517.5 L307.5,517.3 L308.5,517.1 L309.5,516.9 L310.5,516.7 L311.5,516.4 L312.5,516.2 L313.5,516.0 L314.5,515.7 L315.5,515.5 L316.5,515.2 L317.5,515.0 L318.5,514.7 L319.5,514.4 L320.5,514.1 L321.5,513.8 L322.5,513.5 L323.5,513.2 L324.5,512.9 L325.5,512.5 L326.5,512.2 L327.5,511.9 L328.5,511.5 L329.5,511.1 L330.5,510.8 L331.5,510.4 L332.5,510.0 L333.5,509.6 L334.5,509.1 L335.5,508.7 L336.5,508.3 L337.5,507.8 L338.5,507.3 L339.5,506.9 L340.5,506.4 L341.5,505.9 L342.5,505.4 L343.5,504.8 L344.5,504.3 L345.5,503.7 L346.5,503.2 L347.5,502.6 L348.5,502.0 L349.5,501.4 L350.5,500.7 L351.5,500.1 L352.5,499.4 L353.5,498.8 L354.5,498.1 L355.5,497.4 L356.5,496.7 L357.5,495.9 L358.5,495.2 L359.5,494.4 L360.5,493.6 L361.5,492.8 L362.5,492.0 L363.5,491.2 L364.5,490.3 L365.5,489.5 L366.5,488.6 L367.5,487.7 L368.5,486.7 L369.5,485.8 L370.5,484.8 L371.5,483.8 L372.5,482.8 L373.5,481.8 L374.5,480.8 L375.5,479.7 L376.5,478.6 L377.5,477.5 L378.5,476.4 L379.5,475.2 L380.5,474.0 L381.5,472.8 L382.5,471.6 L383.5,470.4 L384.5,469.1 L385.5,467.9 L386.5,466.5 L387.5,465.2 L388.5,463.9 L389.5,462.5 L390.5,461.1 L391.5,459.7 L392.5,458.2 L393.5,456.8 L394.5,455.3 L395.5,453.8 L396.5,452.2 L397.5,450.7 L398.5,449.1 L399.5,447.5 L400.5,445.8 L401.5,444.2 L402.5,442.5 L403.5,440.8 L404.5,439.1 L405.5,437.3 L406.5,435.5 L407.5,433.7 L408.5,431.9 L409.5,430.0 L410.5,428.1 L411.5,426.2 L412.5,424.3 L413.5,422.4 L414.5,420.4 L415.5,418.4 L416.5,416.4 L417.5,414.3 L418.5,412.2 L419.5,410.1 L420.5,408.0 L421.5,405.9 L422.5,403.7 L423.5,401.5 L424.5,399.3 L425.5,397.1 L426.5,394.8 L427.5,392.5 L428.5,390.2 L429.5,387.9 L430.5,385.6 L431.5,383.2 L432.5,380.8 L433.5,378.4 L434.5,376.0 L435.5,373.5 L436.5,371.1 L437.5,368.6 L438.5,366.1 L439.5,363.5 L440.5,361.0 L441.5,358.4 L442.5,355.9 L443.5,353.3 L444.5,350.7 L445.5,348.0 L446.5,345.4 L447.5,342.8 L448.5,340.1 L449.5,337.4 L450.5,334.7 L451.5,332.0 L452.5,329.3 L453.5,326.5 L454.5,323.8 L455.5,321.1 L456.5,318.3 L457.5,315.5 L458.5,312.7 L459.5,310.0 L460.5,307.2 L461.5,304.4 L462.5,301.6 L463.5,298.8 L464.5,295.9 L465.5,293.1 L466.5,290.3 L467.5,287.5 L468.5,284.7 L469.5,281.9 L470.5,279.0 L471.5,276.2 L472.5,273.4 L473.5,270.6 L474.5,267.8 L475.5,265.0 L476.5,262.2 L477.5,259.4 L478.5,256.6 L479.5,253.8 L480.5,251.1 L481.5,248.3 L482.5,245.6 L483.5,242.8 L484.5,240.1 L485.5,237.4 L486.5,234.7 L487.5,232.0 L488.5,229.4 L489.5,226.7 L490.5,224.1 L491.5,221.5 L492.5,218.9 L493.5,216.3 L494.5,213.8 L495.5,211.2 L496.5,208.7 L497.5,206.2 L498.5,203.8 L499.5,201.4 L500.5,199.0 L501.5,196.6 L502.5,194.2 L503.5,191.9 L504.5,189.6 L505.5,187.4 L506.5,185.2 L507.5,183.0 L508.5,180.8 L509.5,178.7 L510.5,176.6 L511.5,174.6 L512.5,172.6 L513.5,170.6 L514.5,168.6 L515.5,166.7 L516.5,164.9 L517.5,163.1 L518.5,161.3 L519.5,159.6 L520.5,157.9 L521.5,156.2 L522.5,154.6 L523.5,153.0 L524.5,151.5 L525.5,150.1 L526.5,148.6 L527.5,147.3 L528.5,145.9 L529.5,144.7 L530.5,143.4 L531.5,142.2 L532.5,141.1 L533.5,140.0 L534.5,139.0 L535.5,138.0 L536.5,137.1 L537.5,136.2 L538.5,135.4 L539.5,134.6 L540.5,133.9 L541.5,133.2 L542.5,132.6 L543.5,132.0 L544.5,131.5 L545.5,131.1 L546.5,130.7 L547.5,130.3 L548.5,130.0 L549.5,129.8 L550.5,129.6 L551.5,129.5 L552.5,129.4 L553.5,129.4 L554.5,129.4 L555.5,129.5 L556.5,129.7 L557.5,129.9 L558.5,130.1 L559.5,130.5 L560.5,130.8 L561.5,131.2 L562.5,131.7 L563.5,132.2 L564.5,132.8 L565.5,133.5 L566.5,134.2 L567.5,134.9 L568.5,135.7 L569.5,136.5 L570.5,137.4 L571.5,138.4 L572.5,139.4 L573.5,140.4 L574.5,141.5 L575.5,142.7 L576.5,143.9 L577.5,145.2 L578.5,146.5 L579.5,147.8 L580.5,149.2 L581.5,150.6 L582.5,152.1 L583.5,153.7 L584.5,155.2 L585.5,156.9 L586.5,158.5 L587.5,160.2 L588.5,162.0 L589.5,163.8 L590.5,165.6 L591.5,167.5 L592.5,169.4 L593.5,171.4 L594.5,173.4 L595.5,175.4 L596.5,177.4 L597.5,179.5 L598.5,181.7 L599.5,183.9 L600.5,186.1 L601.5,188.3 L602.5,190.6 L603.5,192.9 L604.5,195.2 L605.5,197.5 L606.5,199.9 L607.5,202.3 L608.5,204.8 L609.5,207.2 L610.5,209.7 L611.5,212.2 L612.5,214.8 L613.5,217.3 L614.5,219.9 L615.5,222.5 L616.5,225.1 L617.5,227.8 L618.5,230.4 L619.5,233.1 L620.5,235.8 L621.5,238.5 L622.5,241.2 L623.5,243.9 L624.5,246.7 L625.5,249.4 L626.5,252.2 L627.5,254.9 L628.5,257.7 L629.5,260.5 L630.5,263.3 L631.5,266.1 L632.5,268.9 L633.5,271.7 L634.5,274.5 L635.5,277.3 L636.5,280.2 L637.5,283.0 L638.5,285.8 L639.5,288.6 L640.5,291.4 L641.5,294.3 L642.5,297.1 L643.5,299.9 L644.5,302.7 L645.5,305.5 L646.5,308.3 L647.5,311.1 L648.5,313.9 L649.5,316.6 L650.5,319.4 L651.5,322.2 L652.5,324.9 L653.5,327.6 L654.5,330.4 L655.5,333.1 L656.5,335.8 L657.5,338.5 L658.5,341.2 L659.5,343.8 L660.5,346.5 L661.5,349.1 L662.5,351.7 L663.5,354.3 L664.5,356.9 L665.5,359.5 L666.5,362.0 L667.5,364.6 L668.5,367.1 L669.5,369.6 L670.5,372.1 L671.5,374.5 L672.5,377.0 L673.5,379.4 L674.5,381.8 L675.5,384.2 L676.5,386.5 L677.5,388.8 L678.5,391.2 L679.5,393.5 L680.5,395.7 L681.5,398.0 L682.5,400.2 L683.5,402.4 L684.5,404.6 L685.5,406.7 L686.5,408.9 L687.5,411.0 L688.5,413.1 L689.5,415.1 L690.5,417.2 L691.5,419.2 L692.5,421.2 L693.5,423.1 L694.5,425.1 L695.5,427.0 L696.5,428.9 L697.5,430.8 L698.5,432.6 L699.5,434.4 L700.5,436.2 L701.5,438.0 L702.5,439.8 L703.5,441.5 L704.5,443.2 L705.5,444.8 L706.5,446.5 L707.5,448.1 L708.5,449.7 L709.5,451.3 L710.5,452.8 L711.5,454.4 L712.5,455.9 L713.5,457.4 L714.5,458.8 L715.5,460.3 L716.5,461.7 L717.5,463.1 L718.5,464.4 L719.5,465.8 L720.5,467.1 L721.5,468.4 L722.5,469.6 L723.5,470.9 L724.5,472.1 L725.5,473.3 L726.5,474.5 L727.5,475.7 L728.5,476.8 L729.5,477.9 L730.5,479.0 L731.5,480.1 L732.5,481.2 L733.5,482.2 L734.5,483.2 L735.5,484.2 L736.5,485.2 L737.5,486.2 L738.5,487.1 L739.5,488.0 L740.5,488.9 L741.5,489.8 L742.5,490.7 L743.5,491.5 L744.5,492.3 L745.5,493.2 L746.5,494.0 L747.5,494.7 L748.5,495.5 L749.5,496.2 L750.5,497.0 L751.5,497.7 L752.5,498.4 L753.5,499.0 L754.5,499.7 L755.5,500.4 L756.5,501.0 L757.5,501.6 L758.5,502.2 L759.5,502.8 L760.5,503.4 L761.5,503.9 L762.5,504.5 L763.5,505.0 L764.5,505.6 L765.5,506.1 L766.5,506.6 L767.5,507.1 L768.5,507.5 L769.5,508.0 L770.5,508.4 L771.5,508.9 L772.5,509.3 L773.5,509.7 L774.5,510.1 L775.5,510.5 L776.5,510.9 L777.5,511.3 L778.5,511.6 L779.5,512.0 L780.5,512.3 L781.5,512.7 L782.5,513.0 L783.5,513.3 L784.5,513.6 L785.5,513.9 L786.5,514.2 L787.5,514.5 L788.5,514.8 L789.5,515.1 L790.5,515.3 L791.5,515.6 L792.5,515.8 L793.5,516.1 L794.5,516.3 L795.5,516.5 L796.5,516.7 L797.5,516.9 L798.5,517.2 L799.5,517.4 L800.5,517.6 L801.5,517.7 L802.5,517.9 L803.5,518.1 L804.5,518.3 L805.5,518.4 L806.5,518.6 L807.5,518.8 L808.5,518.9 L809.5,519.1 L810.5,519.2 L811.5,519.3 L812.5,519.5 L813.5,519.6 L814.5,519.7 L815.5,519.8 L816.5,520.0 L817.5,520.1 L818.5,520.2 L819.5,520.3 L820.5,520.4 L821.5,520.5 L822.5,520.6 L823.5,520.7 L824.5,520.8 L825.5,520.9 L826.5,520.9 L827.5,521.0 L828.5,521.1 L829.5,521.2 L830.5,521.2 L831.5,521.3 L832.5,521.4 L833.5,521.5 L834.5,521.5 L835.5,521.6 L836.5,521.6 L837.5,521.7 L838.5,521.7 L839.5,521.8 L840.5,521.9 L841.5,521.9 L842.5,521.9 L843.5,522.0 L844.5,522.0 L845.5,522.1 L846.5,522.1 L847.5,522.2 L848.5,522.2 L849.5,522.2 L850.5,522.3 L851.5,522.3 L852.5,522.3 L853.5,522.4 L854.5,522.4 L855.5,522.4 L856.5,522.5 L857.5,522.5 L858.5,522.5 L859.5,522.5 L860.5,522.6 L861.5,522.6 L862.5,522.6 L863.5,522.6 L864.5,522.6 L865.5,522.7 L866.5,522.7 L867.5,522.7 L868.5,522.7 L869.5,522.7 L870.5,522.7 L871.5,522.8 L872.5,522.8 L873.5,522.8 L874.5,522.8 L875.5,522.8 L876.5,522.8 L877.5,522.8 L878.5,522.9 L879.5,522.9 L880.5,522.9 L881.5,522.9 L882.5,522.9 L883.5,522.9 L884.5,522.9 L885.5,522.9 L886.5,522.9 L887.5,522.9 L888.5,522.9 L889.5,523.0 L890.5,523.0 L891.5,523.0 L892.5,523.0 L893.5,523.0 L894.5,523.0 L895.5,523.0 L896.5,523.0 L897.5,523.0 L898.5,523.0 L899.5,523.0 L900.5,523.0 L901.5,523.0 L902.5,523.0 L903.5,523.0 L904.5,523.0 L905.5,523.0 L906.5,523.0 L907.5,523.0 L908.5,523.0 L909.5,523.0 L910.5,523.0 L911.5,523.0 L912.5,523.1 L913.5,523.1 L914.5,523.1 L915.5,523.1 L916.5,523.1 L917.5,523.1 L918.5,523.1 L919.5,523.1" stroke="#ff0000" stroke-width="2.2"/>
</g>
<g font-family="'Liberation Sans', sans-serif" font-size="11" fill="#000" text-anchor="end">
<text x="89" y="57.00">800</text>
<text x="89" y="116.00">700</text>
<text x="89" y="175.00">600</text>
<text x="89" y="234.00">500</text>
<text x="89" y="292.00">400</text>
<text x="89" y="351.00">300</text>
<text x="89" y="410.00">200</text>
<text x="89" y="469.00">100</text>
<text x="89" y="527.00">0</text>
</g>
<g font-family="'Liberation Sans', sans-serif" font-size="11" fill="#000" text-anchor="end">
<text transform="translate(102.95 531.8) rotate(-90)">1001.26</text>
<text transform="translate(118.41 531.8) rotate(-90)">1021.14</text>
<text transform="translate(133.86 531.8) rotate(-90)">1040.97</text>
<text transform="translate(149.32 531.8) rotate(-90)">1060.76</text>
<text transform="translate(164.78 531.8) rotate(-90)">1080.5</text>
<text transform="translate(180.23 531.8) rotate(-90)">1100.2</text>
<text transform="translate(195.69 531.8) rotate(-90)">1119.85</text>
<text transform="translate(211.15 531.8) rotate(-90)">1139.45</text>
<text transform="translate(226.61 531.8) rotate(-90)">1159.01</text>
<text transform="translate(242.06 531.8) rotate(-90)">1178.53</text>
<text transform="translate(257.52 531.8) rotate(-90)">1198</text>
<text transform="translate(272.98 531.8) rotate(-90)">1217.42</text>
<text transform="translate(288.43 531.8) rotate(-90)">1236.8</text>
<text transform="translate(303.89 531.8) rotate(-90)">1256.13</text>
<text transform="translate(319.35 531.8) rotate(-90)">1275.42</text>
<text transform="translate(334.81 531.8) rotate(-90)">1294.67</text>
<text transform="translate(350.26 531.8) rotate(-90)">1313.87</text>
<text transform="translate(365.72 531.8) rotate(-90)">1333.03</text>
<text transform="translate(381.18 531.8) rotate(-90)">1352.14</text>
<text transform="translate(396.63 531.8) rotate(-90)">1371.21</text>
<text transform="translate(412.09 531.8) rotate(-90)">1390.23</text>
<text transform="translate(427.55 531.8) rotate(-90)">1409.21</text>
<text transform="translate(443.00 531.8) rotate(-90)">1428.15</text>
<text transform="translate(458.46 531.8) rotate(-90)">1447.05</text>
<text transform="translate(473.92 531.8) rotate(-90)">1465.9</text>
<text transform="translate(489.38 531.8) rotate(-90)">1484.71</text>
<text transform="translate(504.83 531.8) rotate(-90)">1503.47</text>
<text transform="translate(520.29 531.8) rotate(-90)">1522.2</text>
<text transform="translate(535.75 531.8) rotate(-90)">1540.88</text>
<text transform="translate(551.20 531.8) rotate(-90)">1559.52</text>
<text transform="translate(566.66 531.8) rotate(-90)">1578.11</text>
<text transform="translate(582.12 531.8) rotate(-90)">1596.66</text>
<text transform="translate(597.57 531.8) rotate(-90)">1615.18</text>
<text transform="translate(613.03 531.8) rotate(-90)">1633.65</text>
<text transform="translate(628.49 531.8) rotate(-90)">1652.07</text>
<text transform="translate(643.95 531.8) rotate(-90)">1670.46</text>
<text transform="translate(659.40 531.8) rotate(-90)">1688.81</text>
<text transform="translate(674.86 531.8) rotate(-90)">1707.11</text>
<text transform="translate(690.32 531.8) rotate(-90)">1725.37</text>
<text transform="translate(705.77 531.8) rotate(-90)">1743.59</text>
<text transform="translate(721.23 531.8) rotate(-90)">1761.78</text>
<text transform="translate(736.69 531.8) rotate(-90)">1779.91</text>
<text transform="translate(752.14 531.8) rotate(-90)">1798.01</text>
<text transform="translate(767.60 531.8) rotate(-90)">1816.07</text>
<text transform="translate(783.06 531.8) rotate(-90)">1834.09</text>
<text transform="translate(798.52 531.8) rotate(-90)">1852.07</text>
<text transform="translate(813.97 531.8) rotate(-90)">1870</text>
<text transform="translate(829.43 531.8) rotate(-90)">1887.9</text>
<text transform="translate(844.89 531.8) rotate(-90)">1905.76</text>
<text transform="translate(860.34 531.8) rotate(-90)">1923.57</text>
<text transform="translate(875.80 531.8) rotate(-90)">1941.35</text>
<text transform="translate(891.26 531.8) rotate(-90)">1959.09</text>
<text transform="translate(906.71 531.8) rotate(-90)">1976.79</text>
<text transform="translate(922.17 531.8) rotate(-90)">1994.45</text>
</g>
<text x="385.5" y="40" font-family="'Liberation Sans', sans-serif" font-size="24" fill="#000">20210122Ta-C/Cr/</text>
<g fill="none" stroke="#000" stroke-width="1.15" stroke-linecap="butt">
<path d="M595.4 18.2 L597.4 20.8" stroke-width="1.4"/>
<path d="M585.9 22.5 H609"/>
<path d="M591.5 24.4 V29.4 M591 25.5 H603.5 M603.5 24.6 V29.2 M591.5 28.5 H603.5"/>
<path d="M588.5 42 V31 M588 31.5 H607.5 M607.5 31 V40.6 L604.2 40"/>
<path d="M593.5 33 V38.2 M593.5 33.5 H601.5 M601.5 33 V38 M593.5 37.5 H601.5"/>
<path d="M613.4 20.4 L616 23.4" stroke-width="1.4"/>
<path d="M611.2 28.5 H616.5 V37.4 L611.6 40.8"/>
<path d="M616.5 37.4 Q619 40.6 624.5 40.6 H636" stroke-width="1.5"/>
<path d="M618.2 22.5 H634.7"/>
<path d="M626.5 18.3 V39.8"/>
<path d="M621.5 25 V31 M621 25.5 H631.5 M631.5 25 V31 M621.5 30.5 H631.5"/>
<path d="M626 31.2 L618.3 37.6"/>
<path d="M627 31.2 L633.6 36.6"/>
<path d="M642.9 18.4 L638.3 29.8" stroke-width="1.3"/>
<path d="M641.6 23.5 H648"/>
<path d="M640.4 27.5 H647.8"/>
<path d="M638 32.5 H648"/>
<path d="M643.5 27 V40.4 L647.8 36.2"/>
<path d="M650.5 41.6 V20 M650 20.5 H661 M660.5 20 V40.6 L657 40.2"/>
<path d="M651.4 23.6 L658.7 35.8"/>
<path d="M658.5 23.3 L651.1 36.3"/>
</g>
<text transform="translate(54.5 286.2) rotate(-90)" text-anchor="middle" font-family="'Liberation Serif', serif" font-size="27" fill="#000">Intensity</text>
<text x="454.5" y="594.6" font-family="'Liberation Serif', serif" font-size="27" fill="#000">Wavelength(Cm<tspan font-size="15" dy="-7">-</tspan><tspan font-size="15" dx="1.5">1</tspan><tspan dy="7">)</tspan></text>
<g>
<line x1="712" x2="739" y1="78.0" y2="78.0" stroke="#000" stroke-width="1"/>
<line x1="712" x2="739" y1="95.2" y2="95.2" stroke="#ffc000" stroke-width="1.2"/>
<line x1="713" x2="739" y1="112.5" y2="112.5" stroke="#4472c4" stroke-width="1" stroke-dasharray="2.7 1.3"/>
<line x1="713" x2="738.5" y1="130.5" y2="130.5" stroke="#70ad47" stroke-width="1" stroke-dasharray="1 1"/>
<line x1="712" x2="739" y1="147.0" y2="147.0" stroke="#255e91" stroke-width="2.2" stroke-linecap="round"/>
<line x1="711.5" x2="733" y1="164.2" y2="164.2" stroke="#ff0000" stroke-width="2.2" stroke-dasharray="7.5 6.5"/>
</g>
<g font-family="'Liberation Sans', sans-serif" font-size="10.5" fill="#000">
<text x="743" y="81.80">Y Observed</text>
<text x="743" y="99.04">Y Generated</text>
<text x="743" y="116.28">Peak 1  Gauss Cnstr Amp</text>
<text x="743" y="133.52">Peak 2  Gauss Cnstr Amp</text>
<text x="743" y="150.76">Peak 3  Gauss Cnstr Amp</text>
<text x="743" y="168.00">Peak 4  Gauss Cnstr Amp</text>
</g>
</svg>
</body></html>
